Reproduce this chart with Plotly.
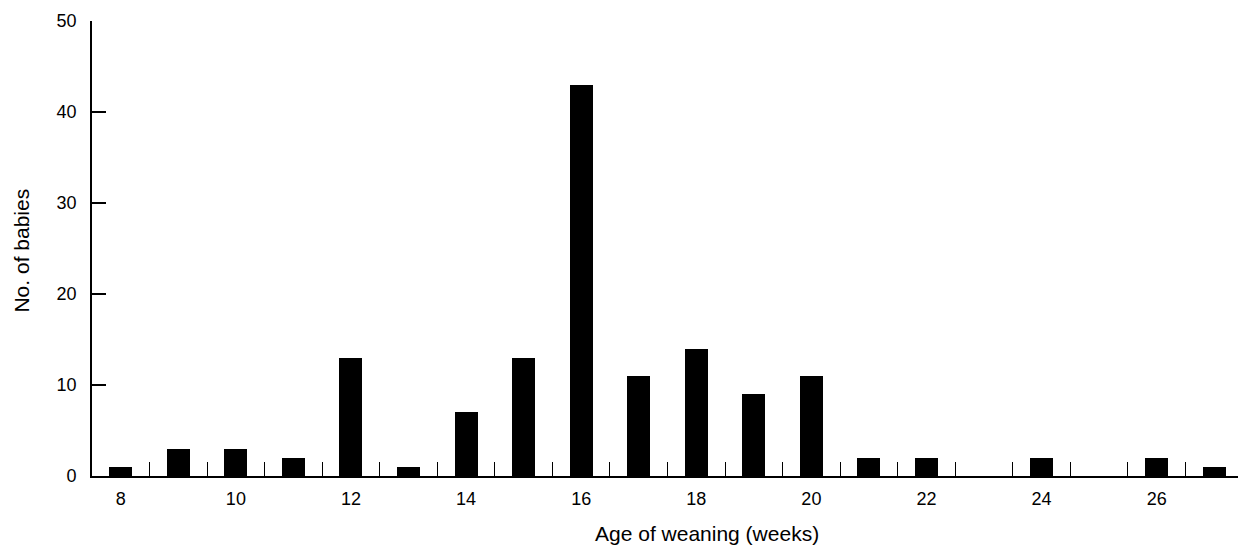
import plotly.graph_objects as go

weeks = [8, 9, 10, 11, 12, 13, 14, 15, 16, 17, 18, 19, 20, 21, 22, 23, 24, 25, 26, 27]
babies = [1, 3, 3, 2, 13, 1, 7, 13, 43, 11, 14, 9, 11, 2, 2, 0, 2, 0, 2, 1]
x_tick_labels = [8, 10, 12, 14, 16, 18, 20, 22, 24, 26]
x_minor_ticks = [w + 0.5 for w in weeks]
y_ticks = [0, 10, 20, 30, 40, 50]

FONT = "Liberation Sans, Arial, Helvetica, sans-serif"

fig = go.Figure()
fig.add_trace(go.Bar(
    x=weeks, y=babies, width=0.4,
    marker=dict(color="black", line=dict(width=0)),
    showlegend=False,
))

# page body has an 8px margin, so the figure is sized to fit inside 1246x547
fig.update_layout(
    width=1238, height=539,
    margin=dict(l=84, r=3, t=10, b=71),
    paper_bgcolor="white", plot_bgcolor="white",
    font=dict(family=FONT, size=18, color="black"),
    bargap=0,
)

fig.update_xaxes(
    range=[7.5, 27.5],
    showline=True, linecolor="black", linewidth=1.6,
    showgrid=False, zeroline=False,
    tickmode="array", tickvals=x_tick_labels, ticktext=[str(v) for v in x_tick_labels],
    ticks="", ticklabelstandoff=6,
    minor=dict(tickmode="array", tickvals=x_minor_ticks, ticks="inside",
               ticklen=14, tickwidth=1.3, tickcolor="black", showgrid=False),
)
fig.update_yaxes(
    range=[0, 50],
    showline=True, linecolor="black", linewidth=1.6,
    showgrid=False, zeroline=False,
    tickmode="array", tickvals=y_ticks,
    ticks="inside", ticklen=14, tickwidth=1.6, tickcolor="black",
    ticklabelstandoff=10,
)

fig.add_annotation(
    text="Age of weaning (weeks)", xref="paper", yref="paper",
    x=0.534, y=-0.127, xanchor="center", yanchor="middle",
    showarrow=False, font=dict(family=FONT, size=21, color="black"),
)
fig.add_annotation(
    text="No. of babies", xref="paper", yref="paper",
    x=-0.061, y=0.495, xanchor="center", yanchor="middle", textangle=-90,
    showarrow=False, font=dict(family=FONT, size=21, color="black"),
)

fig.write_html("out.html")
